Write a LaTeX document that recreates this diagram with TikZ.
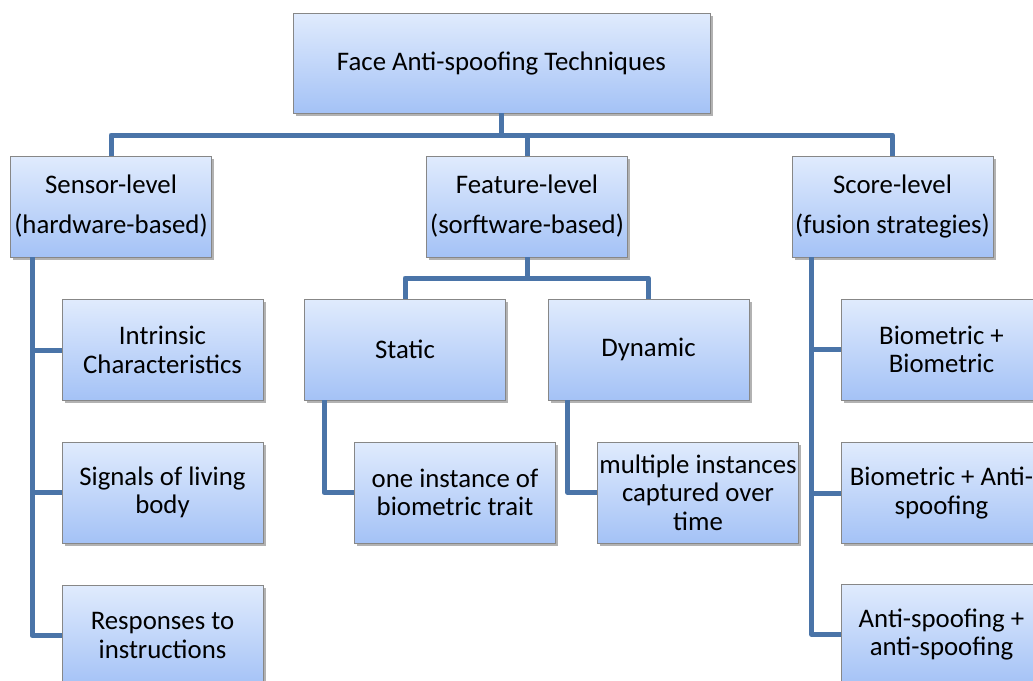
\documentclass[tikz,border=0pt]{standalone}
\usepackage{fontspec}
\setmainfont{Carlito}
\usetikzlibrary{shadows}
\definecolor{lineblue}{RGB}{74,116,168}
\definecolor{boxtop}{RGB}{224,235,253}
\definecolor{boxbot}{RGB}{164,194,246}
\definecolor{boxborder}{RGB}{135,135,135}
\begin{document}
\begin{tikzpicture}[x=1pt,y=-1pt,
  box/.style={draw=boxborder, line width=0.8pt, top color=boxtop, bottom color=boxbot,
    minimum width=201pt, minimum height=101pt, inner sep=0pt, align=center,
    font=\fontsize{26.8}{28.5}\selectfont,
    drop shadow={shadow xshift=2.5pt, shadow yshift=-2.5pt, opacity=0.3, fill=black}},
  lvlbox/.style={box, font=\fontsize{26.8}{40}\selectfont},
  conn/.style={draw=lineblue, line width=5pt, line join=round}]
\useasboundingbox (0,0) rectangle (1033,680);
\clip (0,0) rectangle (1033,680);
% nodes
\node[box, minimum width=417pt, minimum height=100pt] (top) at (501.5,63) {Face Anti-spoofing Techniques};
\node[lvlbox] (sensor) at (111,206.5) {Sensor-level\\(hardware-based)};
\node[lvlbox] (feature) at (527,206.5) {Feature-level\\(sorftware-based)};
\node[lvlbox] (score) at (892.5,206.5) {Score-level\\(fusion strategies)};
\node[box] (intr) at (162.5,350) {Intrinsic\\Characteristics};
\node[box] (sig) at (162.5,492.5) {Signals of living\\body};
\node[box] (resp) at (162.5,635.5) {Responses to\\instructions};
\node[box] (static) at (405,349.5) {Static};
\node[box] (dynamic) at (648.5,349.5) {Dynamic};
\node[box] (one) at (455,492.5) {one instance of\\biometric trait};
\node[box] (multi) at (698,492.5) {multiple instances\\captured over\\time};
\node[box] (bb) at (941.5,349.5) {Biometric +\\Biometric};
\node[box] (ba) at (941.5,493) {Biometric + Anti-\\spoofing};
\node[box] (aa) at (941.5,634.5) {Anti-spoofing +\\anti-spoofing};
% connectors
\coordinate (bus) at (500,135);
\draw[conn] (top.south) -- (top.south |- bus);
\draw[conn] (sensor.north) |- (bus) -| (score.north);
\draw[conn] (feature.north) -- (feature.north |- bus);
\coordinate (sv) at ([xshift=22pt]sensor.south west);
\draw[conn] (sv) |- (intr.west);
\draw[conn] (sv) |- (sig.west);
\draw[conn] (sv) |- (resp.west);
\coordinate (fbus) at (527,278);
\draw[conn] (feature.south) -- (feature.south |- fbus);
\draw[conn] (static.north) |- (fbus) -| (dynamic.north);
\coordinate (stv) at ([xshift=20pt]static.south west);
\draw[conn] (stv) |- (one.west);
\coordinate (dyv) at ([xshift=20pt]dynamic.south west);
\draw[conn] (dyv) |- (multi.west);
\coordinate (scv) at ([xshift=20pt]score.south west);
\draw[conn] (scv) |- (bb.west);
\draw[conn] (scv) |- (ba.west);
\draw[conn] (scv) |- (aa.west);
\end{tikzpicture}
\end{document}
